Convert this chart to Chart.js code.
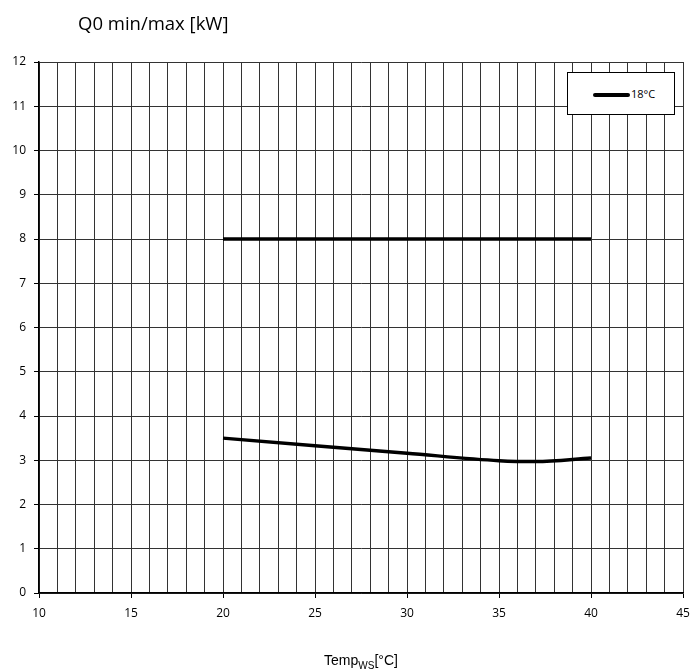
<!DOCTYPE html>
<html>
<head>
<meta charset="utf-8">
<script src="https://cdn.jsdelivr.net/npm/chart.js@4/dist/chart.umd.min.js"></script>
<style>
	body{margin:0;background:#fff;}
	#wrap{position:relative;width:693px;height:671px;}
	#titre{position:absolute;left:78px;top:10px;font-family:"Open Sans",sans-serif;font-size:18.5px;color:#000;white-space:nowrap;}
	#xtitre{position:absolute;left:0;width:722px;top:652px;text-align:center;font-family:"Liberation Sans",Arial,sans-serif;font-size:14px;color:#000;}
	#xtitre sub{font-size:10px;vertical-align:-4px;}
	#legende{position:absolute;left:567px;top:72px;width:106px;height:41px;border:1.5px solid #000;background:#fff;}
	#legende .trait{position:absolute;left:25px;top:20px;width:37px;height:4px;background:#000;border-radius:2px;}
	#legende .txt{position:absolute;left:63px;top:13px;font-family:"Open Sans",sans-serif;font-size:11px;color:#000;}
</style>
</head>
<body>
<div id="wrap">
	<canvas id="graphe" width="693" height="671"></canvas>
	<div id="titre">Q0 min/max [kW]</div>
	<div id="xtitre">Temp<sub>WS</sub>[°C]</div>
	<div id="legende"><span class="trait"></span><span class="txt"></span></div>
</div>
<script>
// donnees
let serie_nom = "18°C";
let temp_max = [20, 25, 30, 35, 40];
let q0_max = [8, 8, 8, 8, 8];
let temp_min = [20, 25, 30, 35, 37, 40];
let q0_min = [3.5, 3.33, 3.16, 2.99, 2.97, 3.05];

let x_min = 10, x_max = 45, y_min = 0, y_max = 12;

function points(xs, ys){
	return xs.map(function(x, i){ return {x: x, y: ys[i]}; });
}

document.querySelector("#legende .txt").innerText = serie_nom;

new Chart(document.getElementById("graphe"), {
	type: 'line',
	data: {
		datasets: [
			{
				label: serie_nom,
				data: points(temp_max, q0_max),
				borderColor: "#000",
				borderWidth: 3.5,
				pointRadius: 0,
				fill: false
			},
			{
				label: serie_nom + " min",
				data: points(temp_min, q0_min),
				borderColor: "#000",
				borderWidth: 3.5,
				pointRadius: 0,
				cubicInterpolationMode: 'monotone',
				fill: false
			}
		]
	},
	options: {
		responsive: false,
		animation: false,
		layout: { padding: { top: 62, right: 10, left: 0, bottom: 0 } },
		plugins: {
			legend: { display: false },
			tooltip: { enabled: false }
		},
		scales: {
			x: {
				type: 'linear',
				min: x_min,
				max: x_max,
				afterFit: function(s){ s.height = 78; s.paddingLeft = 0; s.paddingRight = 0; },
				border: { color: "#000", width: 1.5 },
				grid: {
					color: "#333",
					lineWidth: 1,
					tickLength: 5,
					tickColor: function(c){ return c.tick.value % 5 === 0 ? "#000" : "rgba(0,0,0,0)"; }
				},
				ticks: {
					stepSize: 1,
					autoSkip: false,
					maxRotation: 0,
					padding: 8,
					color: "#000",
					font: { family: "Open Sans", size: 12 },
					callback: function(v){ return v % 5 === 0 ? v : ""; }
				}
			},
			y: {
				min: y_min,
				max: y_max,
				afterFit: function(s){ s.width = 39; s.paddingTop = 0; s.paddingBottom = 0; },
				border: { color: "#000", width: 1.5 },
				grid: { color: "#333", lineWidth: 1, tickLength: 5, tickColor: "#000" },
				ticks: {
					stepSize: 1,
					padding: 8,
					color: "#000",
					font: { family: "Open Sans", size: 12 }
				}
			}
		}
	}
});
</script>
</body>
</html>
